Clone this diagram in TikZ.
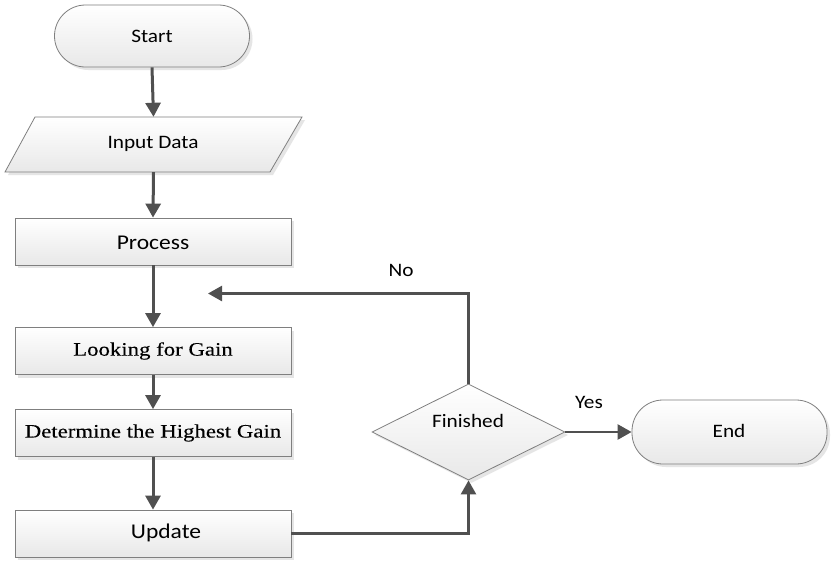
\documentclass[tikz,border=0pt]{standalone}
\usepackage{fontspec}
\setmainfont[FakeStretch=1.12]{Carlito}
\newfontfamily\serifbox[FakeStretch=1.2,FakeBold=0.2]{Liberation Serif}
\usetikzlibrary{shapes.geometric,arrows.meta,shadows}
\definecolor{lineclr}{HTML}{505050}
\definecolor{borderclr}{HTML}{7F7F7F}
\tikzset{
  boxbase/.style={draw=borderclr, line width=0.8pt, top color=white, bottom color=black!9,
    drop shadow={shadow xshift=3pt, shadow yshift=-3pt, fill=black!10, opacity=1},
    inner sep=0pt, align=center},
  procbox/.style={boxbase, rectangle, minimum width=276pt, minimum height=47pt},
  termbox/.style={boxbase, rectangle, rounded corners=31pt, minimum width=195pt, minimum height=62pt},
  decbox/.style={boxbase, diamond, minimum width=193pt, minimum height=96pt, aspect=2},
  flow/.style={draw=lineclr, line width=3pt, -{Triangle[length=14pt,width=15pt]}},
  flowthin/.style={draw=lineclr, line width=2.5pt, -{Triangle[length=14pt,width=15pt]}},
  txt/.style={font=\fontsize{19}{22}\selectfont, text=black},
  bigtxt/.style={font=\fontsize{21}{24}\selectfont, text=black},
  sertxt/.style={font=\serifbox\fontsize{19}{22}\selectfont, text=black},
}
\begin{document}
\begin{tikzpicture}[x=1pt,y=-1pt]
\useasboundingbox[fill=white] (0,0) rectangle (836,576);
% terminals
\node[termbox] (start) at (152,36) {};
\node[txt] (starttxt) at (152,36) {Start};
% input parallelogram (invisible frame + drawn polygon)
\node[inner sep=0pt, minimum width=297pt, minimum height=55pt] (input) at (153.5,144.5) {};
\fill[black!10] (38,120) -- (305,120) -- (273,175) -- (8,175) -- cycle;
\shade[top color=white, bottom color=black!9]
  (35,117) -- (302,117) -- (270,172) -- (5,172) -- cycle;
\draw[draw=borderclr, line width=0.8pt] (35,117) -- (302,117) -- (270,172) -- (5,172) -- cycle;
\node[txt] (inputtxt) at (153,144) {Input Data};
% process boxes
\node[procbox] (process) at (153,241.5) {};
\node[bigtxt] (processtxt) at (153,243) {Process};
\node[procbox] (look) at (153,351) {};
\node[sertxt] (looktxt) at (153,351) {Looking for Gain};
\node[procbox] (det) at (153,433) {};
\node[sertxt] (dettxt) at (153,433) {Determine the Highest Gain};
\node[procbox] (update) at (153,533.5) {};
\node[bigtxt] (updatetxt) at (166,533) {Update};
% decision
\node[decbox] (fin) at (468.5,432) {};
\node[txt] (fintxt) at (468,421) {Finished};
% end
\node[termbox, minimum height=64pt] (end) at (729.5,432) {};
\node[txt] (endtxt) at (729,431) {End};
% connectors
\draw[flow] (start.south) -- (input.north);
\draw[flow] (input.south) -- (process.north);
\draw[flow] (process.south) -- (look.north);
\draw[flow] (look.south) -- (det.north);
\draw[flow] (det.south) -- (update.north);
\draw[flowthin] (update.east) -| (fin.south);
\draw[flowthin] (fin.east) -- (end.west);
\coordinate (loopend) at (208,293.5);
\draw[flowthin] (fin.north) |- (loopend);
% labels
\node[txt] (yes) at (589,402) {Yes};
\node[txt] (no) at (401,270) {No};
\end{tikzpicture}
\end{document}
